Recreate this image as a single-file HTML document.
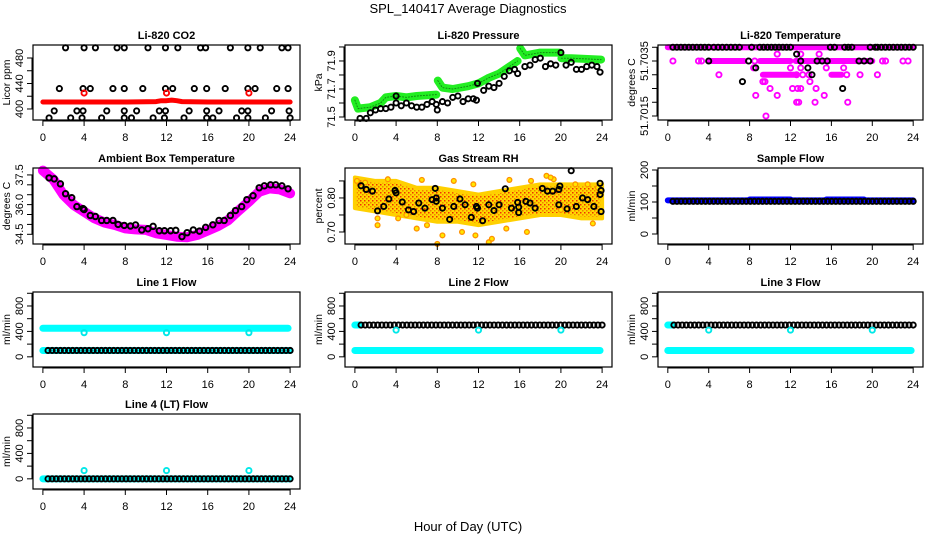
<!DOCTYPE html>
<html><head><meta charset="utf-8"><title>SPL_140417 Average Diagnostics</title>
<style>
html,body{margin:0;padding:0;background:#fff;}
svg{display:block;font-family:"Liberation Sans",sans-serif;}
</style></head>
<body>
<svg id="chart" width="936" height="540" viewBox="0 0 936 540" xmlns="http://www.w3.org/2000/svg">
<defs>
<pattern id="rhpat" width="4" height="4" patternUnits="userSpaceOnUse">
<rect width="4" height="4" fill="#ffd800"/><rect x="0" y="0" width="1.5" height="1.5" fill="#f03000"/><rect x="2" y="2" width="1.5" height="1.5" fill="#f08000"/>
</pattern>
</defs>
<text x="468" y="13" text-anchor="middle" font-size="13">SPL_140417  Average Diagnostics</text>
<text x="468" y="531" text-anchor="middle" font-size="13">Hour of Day (UTC)</text>
</svg>
<script>
// ---------- data ----------
const xTicks = [0,4,8,12,16,20,24];
// CO2
const co2BlackH = [2.2,4.0,5.1,7.2,7.9,10.2,11.9,13.1,15.3,15.8,18.2,19.9,21.1,23.2,23.8,
 1.6,3.9,4.6,6.8,7.9,9.7,11.9,12.6,14.7,15.9,17.7,19.9,20.6,22.7,23.8,
 1.1,3.3,3.9,6.2,7.9,9.1,11.3,11.9,14.2,15.9,17.1,19.3,19.9,22.2,23.9,
 0.6,2.7,3.8,5.7,7.9,8.6,10.7,11.8,13.7,15.9,16.5,18.8,19.9,21.6,24.0];
const co2BlackV = [496,496,496,496,496,496,496,496,496,496,496,496,496,496,496,
 432,432,432,432,432,432,432,432,432,432,432,432,432,432,432,
 397,397,397,397,397,397,397,397,397,397,397,397,397,397,397,
 386,386,386,386,386,386,386,386,386,386,386,386,386,386,386];
const co2RedH = [0,4,8,11,11.5,12,12.5,13,13.5,16,20,24];
const co2RedV = [411,411,411,411.5,413,413,414,413,411.5,411,411,411];
const co2RedPtH = [4,12,20];
const co2RedPtV = [425,425,425];
// Pressure
const presGreenH = [0,0.3,1.5,2.5,3,4,5,6,7.9,null,8.05,8.5,9.5,11,12,13,14,15,15.8,null,16.05,16.5,18,19.9,null,20.05,21,23.9];
const presGreenV = [71.62,71.56,71.57,71.60,71.64,71.65,71.64,71.65,71.66,null,71.76,71.71,71.70,71.72,71.74,71.78,71.81,71.86,71.90,null,71.99,71.94,71.96,71.96,null,71.92,71.92,71.91];
const presBlackH = [0.5,1.1,1.5,2,2.5,3,3.5,4,4,4.5,5,5.5,6,6.5,7,7.5,7.9,8,8.5,9,9.5,10,10.5,11,11.5,11.8,11.9,12.5,13,13.5,14,14.5,15,15.5,15.8,16.5,17,17.5,18,18.5,19,19.5,20,20.5,21,21.5,22,22.5,23,23.5,23.8];
const presBlackV = [71.49,71.49,71.53,71.55,71.56,71.56,71.57,71.60,71.65,71.58,71.60,71.58,71.57,71.57,71.59,71.61,71.59,71.55,71.61,71.60,71.64,71.65,71.61,71.63,71.63,71.62,71.74,71.69,71.72,71.71,71.74,71.79,71.83,71.84,71.81,71.86,71.87,71.91,71.92,71.86,71.88,71.87,71.96,71.87,71.89,71.84,71.84,71.86,71.87,71.86,71.82];
// Li-820 temperature (discrete levels)
const tempMagSpanLevel = [51.70400,51.70350,51.70350,51.70350,51.70300,51.70300];
const tempMagSpanStart = [0,4,9,12.5,9.3,16];
const tempMagSpanEnd = [24,7.5,12,20,12.5,17];
const tempMagPtH = [0.5,3,3.3,8.5,21,21.3,23,23.5,10.7,14.8,13,8.4,12.0,13,15.5,17.2,5,12.6,13.2,13.8,17.5,18.8,20.5,9.3,9.5,13.9,10,12.2,12.7,13,14.5,8.6,10.7,15.3,12.6,12.8,14.4,17.6,9.6];
const tempMagPtV = [51.7035,51.7035,51.7035,51.7035,51.7035,51.7035,51.7035,51.7035,51.70375,51.70375,51.70375,51.70325,51.70325,51.70325,51.70325,51.70325,51.7030,51.7030,51.7030,51.7030,51.7030,51.7030,51.7030,51.70275,51.70275,51.70275,51.7025,51.7025,51.7025,51.7025,51.7025,51.70225,51.70225,51.70225,51.7020,51.7020,51.7020,51.7020,51.7015];
const tempBlkSpanStart = [0.5,4.5,9,15.9,17.3,19.8,20.5];
const tempBlkSpanEnd = [4,7,12,16.3,18,20.3,24];
const tempBlkSpanLevel = [51.704,51.704,51.704,51.704,51.704,51.704,51.704];
const tempBlkPtH = [4,7.9,13,14.6,15.1,15.6,18.7,19.2,19.8,12.6,8.6,13.7,14.1,7.3,17.1,8.2];
const tempBlkPtV = [51.7035,51.7035,51.7035,51.7035,51.7035,51.7035,51.7035,51.7035,51.7035,51.70375,51.70325,51.70325,51.7030,51.70275,51.7025,51.704];
// Ambient box temperature
const ambH = [0,1,2,3,4,5,6,7,8,9,10,11,12,13,14,15,16,17,18,19,20,21,22,23,24];
const ambV = [37.72,37.28,36.49,35.98,35.64,35.31,35.09,34.97,34.80,34.75,34.72,34.55,34.47,34.38,34.35,34.47,34.69,34.92,35.22,35.70,36.15,36.65,36.82,36.77,36.57];
const ambBlkH = [0.6,1.1,1.7,2.2,2.8,3.3,3.9,4.0,4.6,5.1,5.7,6.2,6.8,7.3,7.9,8.5,9.0,9.6,10.2,10.7,11.3,11.8,12.4,12.9,13.5,14.0,14.6,15.2,15.8,16.5,17.1,17.6,18.2,18.7,19.3,19.8,20.4,21.0,21.5,22.1,22.6,23.2,23.8];
const ambBlkV = [37.35,37.30,37.05,36.55,36.35,35.90,35.80,35.75,35.45,35.40,35.20,35.20,35.20,35.00,34.95,34.92,34.97,34.72,34.78,34.90,34.68,34.68,34.68,34.70,34.38,34.58,34.72,34.66,34.85,34.98,35.20,35.20,35.45,35.70,35.90,36.25,36.45,36.85,36.95,37.00,37.00,36.95,36.80];
// Gas stream RH
const rhBandH = [0,2,4,6,8,10,12,14,16,18,20,22,24];
const rhBandHi = [0.86,0.85,0.85,0.83,0.83,0.82,0.81,0.82,0.83,0.84,0.84,0.84,0.84];
const rhBandLo = [0.77,0.76,0.75,0.74,0.73,0.73,0.72,0.73,0.74,0.75,0.75,0.74,0.74];
const rhOutH = [0.2,2.2,2.2,3.2,4.2,6.5,6.0,8.0,8.5,9.6,10.4,11.5,11.7,13.0,13.3,14.7,15.0,16.7,17.1,18.6,19.3,20.0,21.4,22.6,23.1,23.6,1.0,5.0,7.0,19.0];
const rhOutV = [0.85,0.72,0.74,0.855,0.74,0.853,0.71,0.665,0.69,0.85,0.70,0.84,0.69,0.67,0.68,0.71,0.853,0.70,0.85,0.865,0.855,0.765,0.84,0.84,0.725,0.83,0.845,0.75,0.72,0.86];
const rhBlkH = [0.6,1.1,1.7,2.2,2.8,3.3,3.9,4.0,4.6,5.2,5.7,6.2,6.8,7.5,7.9,7.8,7.9,8.5,9.2,9.6,10.2,10.7,11.3,11.8,11.9,12.4,13.0,13.5,14.0,14.6,15.2,15.8,15.9,15.9,16.6,17.0,17.5,18.2,18.7,19.2,19.8,19.9,19.8,20.6,21.0,21.5,22.1,22.6,23.2,23.8,23.9,23.9,23.8];
const rhBlkV = [0.836,0.825,0.82,0.762,0.775,0.797,0.822,0.815,0.788,0.765,0.76,0.785,0.77,0.795,0.80,0.828,0.79,0.77,0.737,0.775,0.797,0.78,0.743,0.775,0.77,0.733,0.78,0.763,0.78,0.827,0.77,0.787,0.773,0.757,0.79,0.785,0.77,0.828,0.82,0.82,0.825,0.835,0.78,0.768,0.88,0.775,0.80,0.795,0.775,0.843,0.822,0.76,0.81];
// Sample flow
const sfBlueStart = [0,8,15.5];
const sfBlueEnd = [24,12,19.2];
const sfBlueLevel = [105,108,108];
const sfBlackLevel = [102];
// Line flows: cyan bands, black circle runs, cyan dip points
const l1CyanLevel = [450,100], l1CyanStart=[0,0], l1CyanEnd=[23.8,24];
const l1BlkLevel = [100], l1BlkStart=[0.5], l1BlkEnd=[24];
const l1DipH = [4,12,20], l1DipV = [380,380,380];
const l2CyanLevel = [500,100], l2CyanStart=[0,0], l2CyanEnd=[0.5,23.8];
const l2BlkLevel = [500], l2BlkStart=[0.6], l2BlkEnd=[24];
const l2DipH = [4,12,20], l2DipV = [420,420,420];
const l3CyanLevel = [500,100], l3CyanStart=[0,0], l3CyanEnd=[0.5,23.8];
const l3BlkLevel = [500], l3BlkStart=[0.6], l3BlkEnd=[24];
const l3DipH = [4,12,20], l3DipV = [420,420,420];
const l4CyanLevel = [0], l4CyanStart=[0], l4CyanEnd=[24];
const l4BlkLevel = [0], l4BlkStart=[0.5], l4BlkEnd=[24];
const l4DipH = [4,12,20], l4DipV = [130,130,130];

// ---------- drawing ----------
const NS = 'http://www.w3.org/2000/svg';
const svg = document.getElementById('chart');
function mk(tag, attrs, parent){
  const e = document.createElementNS(NS, tag);
  for (const k in attrs) e.setAttribute(k, attrs[k]);
  (parent||svg).appendChild(e);
  return e;
}
const colL = [33,345,658], colR = [300,612,923];
const rowT = [45,168,292,414], rowB = [120,244,367,489];

function panel(col,row,ylim,ticks,labels,title,ylab,name){
  const L=colL[col], R=colR[col], T=rowT[row], B=rowB[row];
  const g = mk('g',{});
  
  
  const x0=-0.96, x1=24.96;
  const sx = h => L + (h-x0)/(x1-x0)*(R-L);
  const sy = v => B - (v-ylim[0])/(ylim[1]-ylim[0])*(B-T);
  const plot = mk('g',{},g);
  
  
  const frame = mk('rect',{x:L,y:T,width:R-L,height:B-T,fill:'none',stroke:'#000','stroke-width':1.2},g);
  
  
  const xa = mk('g',{},g);
  
  
  mk('line',{x1:sx(0),x2:sx(24),y1:B+1,y2:B+1,stroke:'#000'},xa);
  xTicks.forEach(t=>{
    mk('line',{x1:sx(t),x2:sx(t),y1:B,y2:B+6,stroke:'#000'},xa);
    const tx = mk('text',{x:sx(t),y:B+21,'text-anchor':'middle','font-size':11},xa);
    tx.textContent = t;
    
    
  });
  const ya = mk('g',{},g);
  
  
  mk('line',{x1:L-1,x2:L-1,y1:sy(ticks[0]),y2:sy(ticks[ticks.length-1]),stroke:'#000'},ya);
  ticks.forEach(t=>{
    mk('line',{x1:L-6,x2:L,y1:sy(t),y2:sy(t),stroke:'#000'},ya);
  });
  labels.forEach((lb,i)=>{
    const yy = sy(lb[0]);
    const tx = mk('text',{x:0,y:0,'text-anchor':'middle','font-size':11,transform:'translate('+(L-10)+','+yy+') rotate(-90)'},ya);
    tx.textContent = lb[1];
    
    
  });
  const tt = mk('text',{x:(L+R)/2,y:T-6,'text-anchor':'middle','font-size':11,'font-weight':'bold'},g);
  tt.textContent = title;
  
  
  const yl = mk('text',{x:0,y:0,'text-anchor':'middle','font-size':10.5,transform:'translate('+(L-23)+','+((T+B)/2)+') rotate(-90)'},g);
  yl.textContent = ylab;
  
  
  return {sx,sy,g:plot};
}
function circles(p,H,V,stroke,opt){
  opt=opt||{};
  H.forEach((h,i)=>{
    const c = mk('circle',{cx:p.sx(h),cy:p.sy(V[i]),r:opt.r||2.6,fill:opt.fill||'none',stroke:stroke,'stroke-width':opt.sw||1.9},p.g);
    
    
  });
}
function poly(p,H,V,color,w,name,dash){
  let segs=[],cur=[];
  H.forEach((h,i)=>{
    if(h===null||V[i]===null){ if(cur.length) segs.push(cur); cur=[]; }
    else cur.push(p.sx(h).toFixed(1)+','+p.sy(V[i]).toFixed(1));
  });
  if(cur.length) segs.push(cur);
  segs.forEach(s=>{
    const a = {points:s.join(' '),fill:'none',stroke:color,'stroke-width':w,'stroke-linecap':'round','stroke-linejoin':'round'};
    if(dash) a['stroke-dasharray']=dash;
    const pl = mk('polyline',a,p.g);
    
    
  });
}
function spans(p,Lv,S,E,color,w,name){
  Lv.forEach((v,i)=>{
    const ln = mk('line',{x1:p.sx(S[i]),x2:p.sx(E[i]),y1:p.sy(v),y2:p.sy(v),stroke:color,'stroke-width':w,'stroke-linecap':'round'},p.g);
    
    
  });
}
function circleRuns(p,Lv,S,E,color,step,opt){
  Lv.forEach((v,i)=>{
    const n = Math.round((E[i]-S[i])/step);
    for(let k=0;k<=n;k++){
      const h = S[i] + (E[i]-S[i])*k/Math.max(n,1);
      const c = mk('circle',{cx:p.sx(h),cy:p.sy(v),r:(opt&&opt.r)||2.6,fill:'none',stroke:color,'stroke-width':(opt&&opt.sw)||1.9},p.g);
      
      
    }
  });
}

// Panel 1: CO2
let p = panel(0,0,[382.7,500.4],[400,420,440,460,480],[[400,'400'],[440,'440'],[480,'480']],'Li-820 CO2','Licor ppm','co2');
circles(p,co2BlackH,co2BlackV,'#000',{name:'co2-raw-point'});
poly(p,co2RedH,co2RedV,'#ff0000',5,'co2-average-line');
circles(p,co2RedPtH,co2RedPtV,'#ff0000',{name:'co2-average-outlier'});

// Panel 2: Pressure
p = panel(1,0,[71.4786,72.014],[71.5,71.6,71.7,71.8,71.9,72.0],[[71.5,'71.5'],[71.7,'71.7'],[71.9,'71.9']],'Li-820 Pressure','kPa','pressure');
poly(p,presGreenH,presGreenV,'#22ee22',8,'pressure-average-band');
poly(p,presGreenH,presGreenV,'#118811',1,'pressure-average-core','1 2');
circles(p,presBlackH,presBlackV,'#000',{name:'pressure-raw-point'});

// Panel 3: Li-820 temperature
p = panel(2,0,[51.701355,51.704082],[51.7015,51.702,51.7025,51.703,51.7035,51.704],[[51.7015,'51.7015'],[51.7035,'51.7035']],'Li-820 Temperature','degrees C','li820-temp');
spans(p,tempMagSpanLevel,tempMagSpanStart,tempMagSpanEnd,'#ff00ff',6,'li820-temp-average-band');
circles(p,tempMagPtH,tempMagPtV,'#ff00ff',{name:'li820-temp-average-point'});
circleRuns(p,tempBlkSpanLevel,tempBlkSpanStart,tempBlkSpanEnd,'#000',0.4,{name:'li820-temp-raw-point'});
circles(p,tempBlkPtH,tempBlkPtV,'#000',{name:'li820-temp-raw-point'});

// Panel 4: Ambient
p = panel(0,1,[34.01,37.85],[34.5,35,35.5,36,36.5,37,37.5],[[34.5,'34.5'],[36.0,'36.0'],[37.5,'37.5']],'Ambient Box Temperature','degrees C','ambient-temp');
poly(p,ambH,ambV,'#ff00ff',10,'ambient-temp-average-band');
circles(p,ambBlkH,ambBlkV,'#000',{r:2.7,sw:2,name:'ambient-temp-raw-point'});

// Panel 5: Gas stream RH
p = panel(1,1,[0.6647,0.888],[0.70,0.75,0.80,0.85],[[0.70,'0.70'],[0.80,'0.80']],'Gas Stream RH','percent','gas-rh');
{
  const pts = rhBandH.map((h,i)=>p.sx(h)+','+p.sy(rhBandHi[i])).concat(rhBandH.slice().reverse().map((h,j)=>{const i=rhBandH.length-1-j;return p.sx(h)+','+p.sy(rhBandLo[i]);}));
  const pg = mk('polygon',{points:pts.join(' '),fill:'url(#rhpat)',stroke:'#ffd000','stroke-width':4,'stroke-linejoin':'round'},p.g);
  
  
}
circles(p,rhOutH,rhOutV,'#ff9000',{fill:'#ffe800',r:2.4,sw:1.3,name:'gas-rh-average-point'});
circles(p,rhBlkH,rhBlkV,'#000',{name:'gas-rh-raw-point'});

// Panel 6: Sample flow
p = panel(2,1,[-31.25,206.25],[0,50,100,150,200],[[0,'0'],[100,'100'],[200,'200']],'Sample Flow','ml/min','sample-flow');
spans(p,sfBlueLevel,sfBlueStart,sfBlueEnd,'#0000ff',6,'sample-flow-average-band');
circleRuns(p,sfBlackLevel,[0.5],[24],'#000',0.4,{name:'sample-flow-raw-point'});

// Line flow panels
const flowTicks=[0,200,400,600,800,1000], flowLabels=[[0,'0'],[400,'400'],[800,'800']];
function flowPanel(col,row,title,name,cL,cS,cE,bL,bS,bE,dH,dV){
  const q = panel(col,row,[-160,1020],flowTicks,flowLabels,title,'ml/min',name);
  spans(q,cL,cS,cE,'#00ffff',7,name+'-average-band');
  circleRuns(q,bL,bS,bE,'#000',0.4,{name:name+'-raw-point'});
  circles(q,dH,dV,'#00e8e8',{name:name+'-average-outlier'});
}
flowPanel(0,2,'Line 1 Flow','line1-flow',l1CyanLevel,l1CyanStart,l1CyanEnd,l1BlkLevel,l1BlkStart,l1BlkEnd,l1DipH,l1DipV);
flowPanel(1,2,'Line 2 Flow','line2-flow',l2CyanLevel,l2CyanStart,l2CyanEnd,l2BlkLevel,l2BlkStart,l2BlkEnd,l2DipH,l2DipV);
flowPanel(2,2,'Line 3 Flow','line3-flow',l3CyanLevel,l3CyanStart,l3CyanEnd,l3BlkLevel,l3BlkStart,l3BlkEnd,l3DipH,l3DipV);
flowPanel(0,3,'Line 4 (LT) Flow','line4-flow',l4CyanLevel,l4CyanStart,l4CyanEnd,l4BlkLevel,l4BlkStart,l4BlkEnd,l4DipH,l4DipV);
</script>
</body></html>
